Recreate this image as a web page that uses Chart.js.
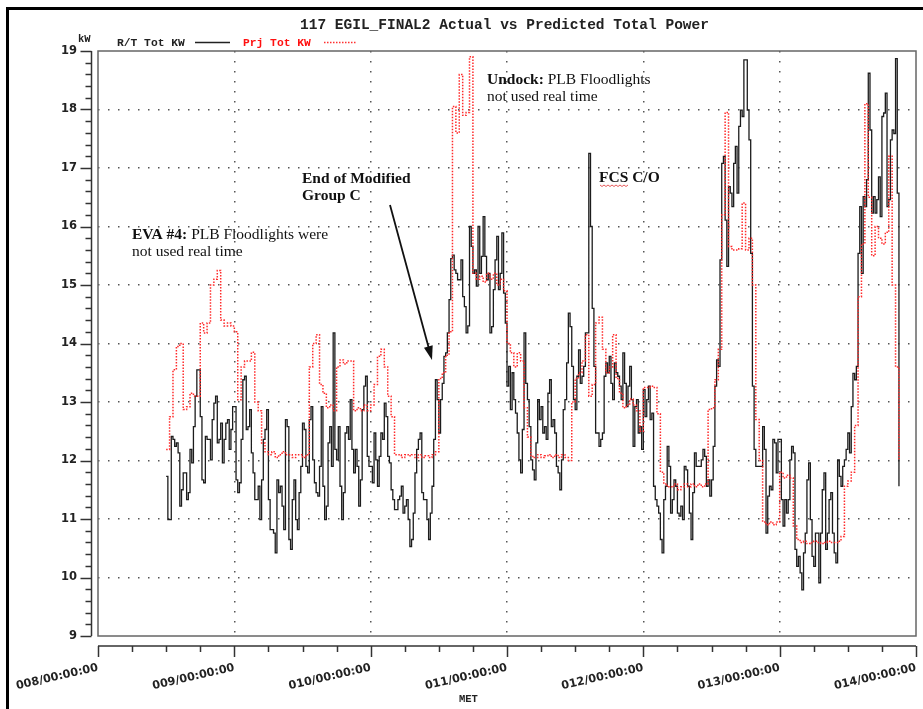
<!DOCTYPE html>
<html lang="en">
<head>
    <meta charset="UTF-8">
    <title>117 EGIL_FINAL2 Actual vs Predicted Total Power</title>
    <script src="https://cdn.jsdelivr.net/npm/chart.js"></script>
    <style>
        body {
            margin: 0;
            padding: 0;
            background: #fff;
        }

        .chart-box {
            position: relative;
            width: 923px;
            height: 709px;
        }
    </style>
</head>
<body>
    <div class="chart-box">
        <canvas id="powerChart"></canvas>
    </div>

    <script>
        // MET in days; actual logged every 0.0125 day, prediction every 0.025 day
        const firstSample = 8.5;
        const actualStep = 0.0125;
        const predictedStep = 0.025;

        // R/T Tot KW (actual)
        const actualKw = [
            11.73, 10.99, 10.99, 12.41, 12.36, 12.24, 12.30, 12.13, 11.22, 11.50,
            11.79, 11.79, 11.33, 11.45, 12.19, 11.96, 12.58, 13.10, 13.55, 13.55,
            12.75, 11.67, 11.62, 12.41, 12.36, 12.36, 12.01, 12.70, 12.98, 13.10,
            12.30, 12.36, 12.64, 11.96, 12.36, 12.64, 12.70, 12.19, 12.53, 12.92,
            12.92, 11.67, 11.45, 11.62, 12.36, 13.38, 13.44, 12.53, 12.58, 12.87,
            12.13, 11.79, 11.33, 11.33, 11.56, 10.99, 11.67, 12.36, 12.53, 12.87,
            11.33, 10.82, 10.82, 10.76, 10.42, 11.67, 11.45, 11.56, 11.22, 10.82,
            12.70, 12.58, 10.65, 10.48, 11.33, 11.67, 10.99, 10.82, 11.45, 11.90,
            12.64, 12.53, 11.90, 11.79, 12.70, 12.92, 12.01, 11.62, 11.45, 11.39,
            11.90, 12.92, 11.56, 10.99, 11.22, 12.30, 12.58, 11.90, 14.18, 12.19,
            12.01, 12.58, 11.56, 10.99, 11.45, 12.47, 12.58, 12.36, 13.04, 12.19,
            11.79, 12.19, 11.90, 11.22, 11.67, 12.87, 13.27, 13.44, 12.07, 11.90,
            11.90, 11.62, 12.47, 12.01, 11.56, 12.07, 12.47, 12.36, 12.98, 12.75,
            12.07, 11.96, 11.50, 11.33, 11.16, 11.16, 11.33, 11.39, 11.56, 11.10,
            11.22, 11.33, 10.99, 10.53, 10.65, 11.10, 11.79, 12.19, 12.36, 12.47,
            11.45, 11.33, 11.33, 10.99, 10.65, 11.10, 11.56, 12.36, 13.38, 13.04,
            12.47, 13.04, 13.32, 13.78, 13.84, 14.18, 14.75, 15.45, 15.51, 15.26,
            15.20, 15.09, 15.09, 15.43, 14.80, 14.63, 14.18, 14.30, 16.00, 15.66,
            15.20, 15.26, 14.98, 16.00, 15.20, 15.49, 16.17, 15.49, 15.09, 15.20,
            14.18, 14.29, 14.92, 15.43, 15.83, 14.92, 15.20, 15.89, 14.86, 14.35,
            13.27, 13.61, 12.87, 13.50, 13.04, 12.81, 12.47, 12.01, 11.79, 12.53,
            14.18, 13.32, 13.04, 12.58, 12.01, 11.84, 11.67, 12.30, 13.04, 12.70,
            12.92, 12.47, 12.58, 12.36, 13.15, 13.38, 12.58, 12.70, 12.47, 11.90,
            11.79, 11.50, 12.01, 12.87, 13.04, 13.67, 14.52, 14.29, 13.61, 13.04,
            12.87, 13.44, 13.89, 13.32, 13.44, 13.61, 14.18, 14.18, 17.25, 16.00,
            14.60, 13.61, 12.47, 12.47, 12.24, 12.36, 12.47, 13.44, 13.67, 13.50,
            13.78, 13.32, 13.04, 13.67, 13.50, 13.44, 13.27, 13.04, 13.84, 13.32,
            12.92, 13.27, 13.61, 13.04, 12.24, 12.92, 13.04, 12.47, 12.58, 12.19,
            13.21, 12.75, 13.04, 13.27, 12.70, 12.81, 11.56, 11.33, 11.22, 11.10,
            10.65, 10.42, 11.33, 11.56, 12.24, 11.90, 11.10, 11.33, 11.67, 11.56,
            11.10, 11.05, 11.22, 10.99, 11.90, 11.84, 11.56, 11.10, 10.65, 11.45,
            12.13, 11.90, 11.90, 11.90, 12.01, 12.19, 12.07, 11.56, 11.67, 11.39,
            11.67, 12.24, 13.27, 13.72, 13.61, 15.43, 17.08, 17.20, 16.11, 15.32,
            16.68, 16.57, 16.34, 17.08, 17.37, 16.57, 17.71, 17.99, 17.88, 18.85,
            18.85, 17.99, 17.48, 15.54, 13.27, 12.19, 11.90, 11.90, 11.90, 11.90,
            12.58, 12.19, 10.76, 11.39, 11.56, 11.50, 12.36, 12.30, 11.79, 12.36,
            12.36, 11.33, 10.88, 11.33, 11.10, 11.33, 12.01, 12.24, 12.13, 10.48,
            10.19, 10.36, 10.08, 9.79, 10.42, 10.76, 11.67, 11.96, 10.99, 10.36,
            10.19, 10.76, 10.76, 9.91, 10.76, 11.50, 11.79, 10.48, 10.76, 11.33,
            11.45, 10.76, 10.42, 10.25, 12.01, 11.73, 11.56, 11.90, 12.01, 12.19,
            12.47, 12.13, 12.92, 13.49, 13.38, 13.61, 15.54, 16.34, 15.20, 16.51,
            16.34, 16.80, 18.62, 17.65, 16.23, 16.51, 16.23, 16.46, 16.85, 16.17,
            17.88, 17.94, 18.28, 16.34, 16.46, 17.48, 17.65, 17.59, 18.87, 16.57,
            11.56
        ];

        // Prj Tot KW (predicted)
        const predictedKw = [
            12.19, 12.75, 13.55, 13.95, 14.00, 12.87, 12.92, 13.15, 13.10, 13.10,
            14.35, 14.18, 14.35, 15.00, 15.10, 15.25, 14.40, 14.30, 14.35, 14.30,
            14.20, 13.04, 13.60, 13.70, 13.70, 13.85, 13.00, 12.85, 12.30, 12.15,
            12.10, 12.15, 12.05, 12.10, 12.15, 12.10, 12.10, 12.05, 12.10, 12.10,
            12.05, 12.10, 13.60, 14.00, 14.15, 13.30, 13.15, 12.90, 12.95, 12.85,
            13.60, 13.72, 13.65, 13.70, 13.70, 12.85, 12.90, 12.85, 12.95, 12.85,
            12.95, 13.30, 13.78, 13.90, 13.60, 13.10, 12.75, 12.10, 12.10, 12.05,
            12.10, 12.08, 12.10, 12.05, 12.10, 12.05, 12.08, 12.05, 12.10, 12.15,
            13.40, 13.50, 13.80, 14.20, 18.05, 17.60, 18.60, 17.90, 17.95, 18.90,
            15.20, 15.10, 15.15, 15.05, 15.20, 15.10, 15.20, 15.00, 15.10, 14.90,
            14.00, 13.84, 13.60, 13.84, 13.70, 12.90, 12.40, 12.07, 12.05, 12.10,
            12.05, 12.08, 12.10, 12.05, 12.10, 12.05, 12.10, 12.05, 12.00, 13.00,
            13.40, 13.50, 13.70, 14.15, 13.10, 13.30, 14.35, 14.45, 13.90, 13.50,
            13.60, 14.15, 13.40, 13.15, 12.90, 12.95, 13.05, 12.95, 12.85, 12.50,
            13.25, 13.25, 13.27, 13.25, 12.80, 11.80, 11.60, 11.55, 11.55, 11.60,
            11.50, 11.55, 11.60, 11.55, 11.60, 11.55, 11.60, 11.55, 11.60, 12.87,
            12.90, 13.38, 13.90, 16.20, 17.95, 15.66, 15.60, 15.60, 15.62, 16.40,
            15.60, 15.80, 15.00, 12.70, 12.00, 10.95, 10.90, 10.95, 10.90, 10.95,
            11.80, 11.70, 11.75, 11.70, 10.88, 10.65, 10.60, 10.62, 10.58, 10.60,
            10.62, 10.60, 10.58, 10.60, 10.62, 10.60, 10.60, 10.62, 10.70, 11.56,
            11.65, 11.80, 12.60, 14.80, 15.70, 18.10, 16.50, 15.50, 16.00, 15.80,
            15.70, 15.90, 17.20, 15.00, 13.60, 12.00
        ];

        // axis ranges and tick labels
        const metRange = [8, 14];
        const kwRange = [9, 19];
        const dayLabels = ['008', '009', '010', '011', '012', '013', '014'];

        const toPoints = (values, step) =>
            values.map((v, i) => ({ x: firstSample + i * step, y: v }));

        // frame, offset axes, title, legend and notes
        const decorPlugin = {
            id: 'decor',
            beforeDraw(chart) {
                const ctx = chart.ctx;
                ctx.save();
                ctx.fillStyle = '#fff';
                ctx.fillRect(0, 0, chart.width, chart.height);
                ctx.restore();
            },
            afterDraw(chart) {
                const { ctx, chartArea: a, scales: { x, y } } = chart;
                const line = (x1, y1, x2, y2) => {
                    ctx.beginPath();
                    ctx.moveTo(x1, y1);
                    ctx.lineTo(x2, y2);
                    ctx.stroke();
                };
                ctx.save();

                // outer black frame
                ctx.strokeStyle = '#000';
                ctx.lineWidth = 3;
                ctx.strokeRect(7.5, 8.5, 1000, 1000);

                // plot box
                ctx.strokeStyle = '#666';
                ctx.lineWidth = 1.5;
                ctx.strokeRect(a.left, a.top, a.right - a.left, a.bottom - a.top);

                // y axis, drawn a little left of the box
                ctx.strokeStyle = '#333';
                const yAxisX = a.left - 6.5;
                line(yAxisX, a.top, yAxisX, a.bottom);
                for (let k = 0; k <= 50; k++) {
                    const py = Math.round(y.getPixelForValue(kwRange[0] + k / 5)) + 0.5;
                    line(yAxisX - (k % 5 === 0 ? 11 : 6), py, yAxisX, py);
                }

                // x axis, drawn below the box
                const xAxisY = a.bottom + 10;
                line(a.left, xAxisY, a.right, xAxisY);
                for (let k = 0; k <= 24; k++) {
                    const px = Math.round(x.getPixelForValue(metRange[0] + k / 4)) + 0.5;
                    line(px, xAxisY, px, xAxisY + (k % 4 === 0 ? 11 : 6));
                }

                // title
                ctx.fillStyle = '#222';
                ctx.textBaseline = 'alphabetic';
                ctx.font = 'bold 14.5px "Liberation Mono", monospace';
                ctx.fillText('117 EGIL_FINAL2 Actual vs Predicted Total Power', 300, 29);

                // legend
                ctx.font = 'bold 11.3px "Liberation Mono", monospace';
                ctx.fillText('R/T Tot KW', 117, 46);
                ctx.strokeStyle = '#222';
                ctx.lineWidth = 1.3;
                line(195, 42.5, 230, 42.5);
                ctx.fillStyle = '#ff1010';
                ctx.fillText('Prj Tot KW', 243, 46);
                ctx.strokeStyle = '#ff3030';
                ctx.setLineDash([1.5, 1.5]);
                line(324, 42.5, 356, 42.5);
                ctx.setLineDash([]);

                // unit and axis title
                ctx.fillStyle = '#222';
                ctx.font = 'bold 10.5px "Liberation Mono", monospace';
                ctx.fillText('kW', 78, 42);
                ctx.fillText('MET', 459, 702);

                // notes
                ctx.fillStyle = '#111';
                const note = (parts, px, py) => {
                    let cx = px;
                    parts.forEach(([txt, bold]) => {
                        ctx.font = (bold ? 'bold ' : '') + '15.5px "Liberation Serif", serif';
                        ctx.fillText(txt, cx, py);
                        cx += ctx.measureText(txt).width;
                    });
                };
                note([['EVA #4:', true], [' PLB Floodlights were', false]], 132, 239);
                note([['not used real time', false]], 132, 256);
                note([['End of Modified', true]], 302, 183);
                note([['Group C', true]], 302, 200);
                note([['Undock:', true], [' PLB Floodlights', false]], 487, 84);
                note([['not used real time', false]], 487, 101);
                note([['FCS C/O', true]], 599, 182);

                // spell-check squiggle under FCS
                ctx.strokeStyle = '#e03030';
                ctx.lineWidth = 0.8;
                ctx.beginPath();
                for (let i = 0; i <= 14; i++) {
                    const sx = 600 + i * 2;
                    const sy = 185 + (i % 2 === 0 ? 0 : 1.5);
                    if (i === 0) ctx.moveTo(sx, sy); else ctx.lineTo(sx, sy);
                }
                ctx.stroke();

                // arrow to end of modified group C
                ctx.strokeStyle = '#111';
                ctx.fillStyle = '#111';
                ctx.lineWidth = 1.8;
                const tipX = 432, tipY = 360, tailX = 390, tailY = 205;
                const ang = Math.atan2(tipY - tailY, tipX - tailX);
                line(tailX, tailY, tipX - 10 * Math.cos(ang), tipY - 10 * Math.sin(ang));
                ctx.beginPath();
                ctx.moveTo(tipX, tipY);
                ctx.lineTo(tipX - 14 * Math.cos(ang) + 4.5 * Math.sin(ang), tipY - 14 * Math.sin(ang) - 4.5 * Math.cos(ang));
                ctx.lineTo(tipX - 14 * Math.cos(ang) - 4.5 * Math.sin(ang), tipY - 14 * Math.sin(ang) + 4.5 * Math.cos(ang));
                ctx.closePath();
                ctx.fill();

                ctx.restore();
            }
        };

        const gridColor = (lo, hi) => c =>
            (c.tick.value > lo && c.tick.value < hi) ? '#555' : 'rgba(0,0,0,0)';

        new Chart(document.getElementById('powerChart'), {
            type: 'line',
            data: {
                datasets: [
                    {
                        label: 'R/T Tot KW',
                        data: toPoints(actualKw, actualStep),
                        borderColor: '#1c1c1c',
                        borderWidth: 1.3,
                        stepped: true,
                        pointRadius: 0,
                        order: 2
                    },
                    {
                        label: 'Prj Tot KW',
                        data: toPoints(predictedKw, predictedStep),
                        borderColor: '#ff2a2a',
                        borderWidth: 1.5,
                        borderDash: [1.5, 1.5],
                        stepped: true,
                        pointRadius: 0,
                        order: 1
                    }
                ]
            },
            options: {
                responsive: true,
                maintainAspectRatio: false,
                animation: false,
                devicePixelRatio: 1,
                layout: {
                    padding: { left: 38, top: 51, right: 7, bottom: 0 }
                },
                plugins: {
                    legend: { display: false },
                    title: { display: false },
                    tooltip: { enabled: false }
                },
                scales: {
                    x: {
                        type: 'linear',
                        min: metRange[0],
                        max: metRange[1],
                        afterFit: s => {
                            s.height = 73;
                            s.paddingLeft = 0;
                            s.paddingRight = 0;
                        },
                        ticks: {
                            stepSize: 1,
                            autoSkip: false,
                            minRotation: 13,
                            maxRotation: 13,
                            padding: 25,
                            color: '#222',
                            font: { family: 'DejaVu Sans', weight: 'bold', size: 11.3 },
                            callback: v => dayLabels[v - metRange[0]] + '/00:00:00'
                        },
                        grid: {
                            color: gridColor(metRange[0], metRange[1]),
                            lineWidth: 1.5,
                            drawTicks: false
                        },
                        border: { display: false, dash: [1.5, 8.5] }
                    },
                    y: {
                        min: kwRange[0],
                        max: kwRange[1],
                        afterFit: s => { s.width = 60; },
                        ticks: {
                            stepSize: 1,
                            padding: 21,
                            color: '#222',
                            font: { family: 'DejaVu Sans', weight: 'bold', size: 11.5 }
                        },
                        grid: {
                            color: gridColor(kwRange[0], kwRange[1]),
                            lineWidth: 1.5,
                            drawTicks: false
                        },
                        border: { display: false, dash: [1.5, 8.5] }
                    }
                }
            },
            plugins: [decorPlugin]
        });
    </script>
</body>
</html>
